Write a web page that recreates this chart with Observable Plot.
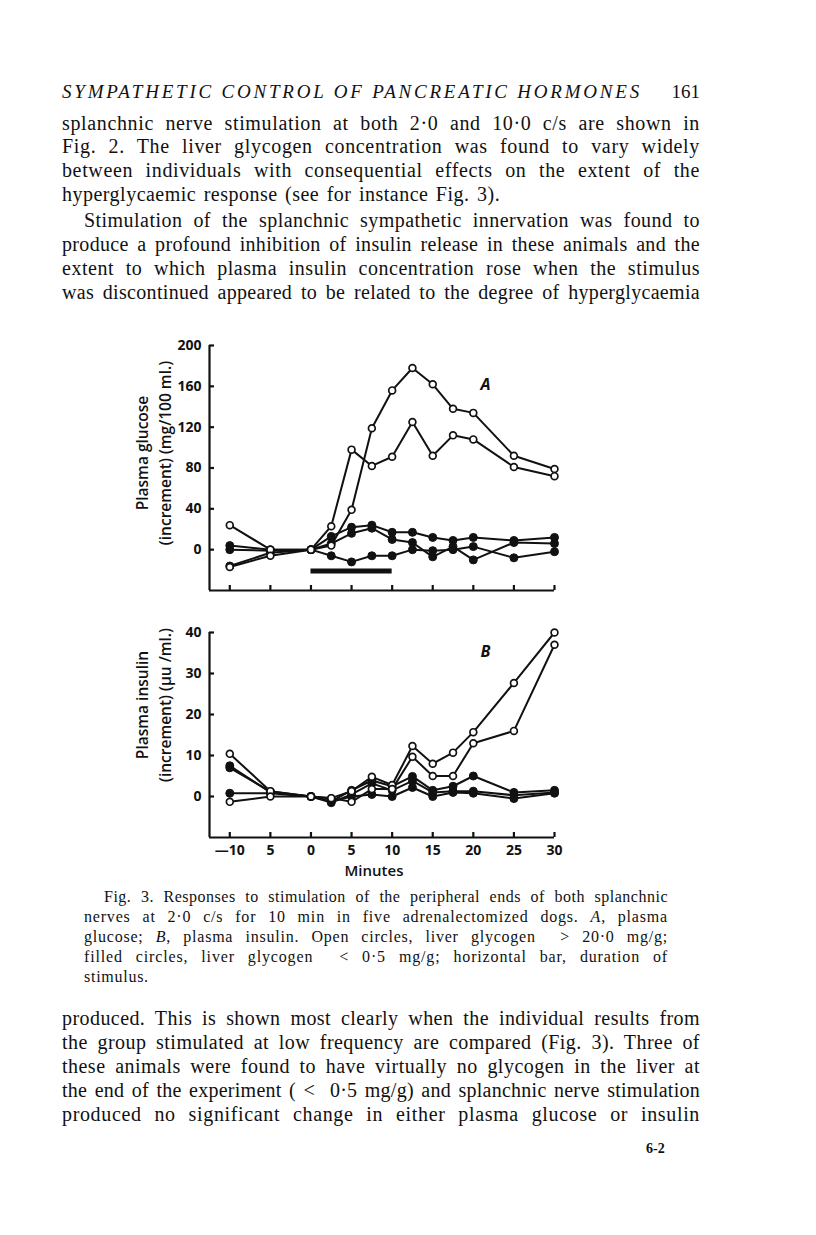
<!DOCTYPE html>
<html>
<head>
<meta charset="utf-8">
<script src="https://cdn.jsdelivr.net/npm/d3@7"></script>
<script src="https://cdn.jsdelivr.net/npm/@observablehq/plot@0.6"></script>
<style>
  html, body { margin: 0; padding: 0; background: #fff; }
  #page { position: relative; width: 816px; height: 1235px; background: #fff; overflow: hidden; color: #111; }
  .ln { position: absolute; left: 62px; width: 638px; font-family: "Liberation Serif", serif; font-size: 20px; line-height: 24px; height: 24px; white-space: nowrap; }
  .cap { position: absolute; left: 84px; width: 584px; font-family: "Liberation Serif", serif; font-size: 16px; line-height: 20px; height: 20px; white-space: nowrap; }
  .hdr { position: absolute; left: 62px; top: 80px; width: 638px; font-family: "Liberation Serif", serif; font-size: 19px; line-height: 24px; white-space: nowrap; }
  .plot { position: absolute; left: 0; }
</style>
</head>
<body>
<div id="page">
  <div class="hdr"><span id="hdrText" style="font-style:italic; letter-spacing:1.6px;">SYMPATHETIC CONTROL OF PANCREATIC HORMONES</span><span style="position:absolute; right:0; top:0;">161</span></div>

  <div class="ln" style="top:111px">splanchnic nerve stimulation at both 2·0 and 10·0 c/s are shown in</div>
  <div class="ln" style="top:134px">Fig. 2. The liver glycogen concentration was found to vary widely</div>
  <div class="ln" style="top:158px">between individuals with consequential effects on the extent of the</div>
  <div class="ln last" style="top:182px">hyperglycaemic response (see for instance Fig. 3).</div>
  <div class="ln" style="top:208px; left:84px; width:616px;">Stimulation of the splanchnic sympathetic innervation was found to</div>
  <div class="ln" style="top:232px">produce a profound inhibition of insulin release in these animals and the</div>
  <div class="ln" style="top:256px">extent to which plasma insulin concentration rose when the stimulus</div>
  <div class="ln" style="top:280px">was discontinued appeared to be related to the degree of hyperglycaemia</div>

  <div id="plotA"></div>
  <div id="plotB"></div>

  <div class="cap" style="top:887px; left:104px; width:564px;">Fig. 3. Responses to stimulation of the peripheral ends of both splanchnic</div>
  <div class="cap" style="top:907px">nerves at 2·0 c/s for 10 min in five adrenalectomized dogs. <i>A</i>, plasma</div>
  <div class="cap" style="top:927px">glucose; <i>B</i>, plasma insulin. Open circles, liver glycogen &nbsp;&gt; 20·0 mg/g;</div>
  <div class="cap" style="top:947px">filled circles, liver glycogen &nbsp;&lt; 0·5 mg/g; horizontal bar, duration of</div>
  <div class="cap last" style="top:967px">stimulus.</div>

  <div class="ln" style="top:1006px">produced. This is shown most clearly when the individual results from</div>
  <div class="ln" style="top:1030px">the group stimulated at low frequency are compared (Fig. 3). Three of</div>
  <div class="ln" style="top:1054px">these animals were found to have virtually no glycogen in the liver at</div>
  <div class="ln" style="top:1078px">the end of the experiment ( &lt; &nbsp;0·5 mg/g) and splanchnic nerve stimulation</div>
  <div class="ln" style="top:1102px">produced no significant change in either plasma glucose or insulin</div>
  <div style="position:absolute; left:646px; top:1141px; font-family:'Liberation Serif',serif; font-size:14px; font-weight:bold;">6-2</div>
</div>

<script>
// ---- data ----
const minutes = [-10, -5, 0, 2.5, 5, 7.5, 10, 12.5, 15, 17.5, 20, 25, 30];

// Panel A: plasma glucose increment (mg/100 ml)
const glucoseOpen1   = [24, 0, 0, 4, 39, 119, 156, 178, 162, 138, 134, 92, 79];
const glucoseOpen2   = [-17, -6, 0, 23, 98, 82, 91, 125, 92, 112, 108, 81, 72];
const glucoseFilled1 = [4, 0, 0, 13, 22, 24, 17, 17, 12, 9, 12, 9, 12];
const glucoseFilled2 = [-16, -3, 0, 6, 16, 21, 10, 7, -7, 3, -10, 7, 6];
const glucoseFilled3 = [0, -1, 0, -6, -12, -6, -6, 0, -1, 0, 3, -8, -2];

// Panel B: plasma insulin increment (µu/ml)
const insulinOpen1   = [10.4, 1.3, 0, -0.4, 1.3, 4.8, 2.8, 12.3, 8, 10.7, 15.7, 27.7, 40];
const insulinOpen2   = [-1.3, 0, 0, -0.4, -1.3, 1.8, 1.8, 9.7, 5, 5, 13, 16, 37];
const insulinFilled1 = [7.5, 1, 0, -1.2, 1.5, 3.9, 2.5, 4.9, 1.5, 2.5, 5, 1, 1.5];
const insulinFilled2 = [7, 1.2, 0, -1.5, 0.5, 3.2, 1.5, 3.8, 1, 1.3, 1.3, 0.3, 1];
const insulinFilled3 = [0.8, 0.8, 0, -1.2, 0, 0.5, 0, 2.2, 0, 1, 0.8, -0.5, 0.8];

// stimulus period (minutes)
const stimStart = 0;
const stimEnd = 10;

// axes
const xDomain = [-12.5, 30];
const xTicks = [-10, -5, 0, 5, 10, 15, 20, 25, 30];
const xTickLabels = ["\u201410", "5", "0", "5", "10", "15", "20", "25", "30"];
const glucoseDomain = [-40, 200];
const glucoseTicks = [0, 40, 80, 120, 160, 200];
const insulinDomain = [-10, 40];
const insulinTicks = [0, 10, 20, 30, 40];

const glucoseLabel = "Plasma glucose\n(increment) (mg/100 ml.)";
const insulinLabel = "Plasma insulin\n(increment) (\u03bcu /ml.)";
const xLabel = "Minutes";

function toRows(series) {
  const rows = [];
  series.forEach(([name, group, vals]) => {
    vals.forEach((v, i) => rows.push({dog: name, group, minute: minutes[i], value: v}));
  });
  return rows;
}

const glucoseRows = toRows([
  ["f1", "filled", glucoseFilled1], ["f2", "filled", glucoseFilled2], ["f3", "filled", glucoseFilled3],
  ["o1", "open", glucoseOpen1], ["o2", "open", glucoseOpen2]
]);
const insulinRows = toRows([
  ["f1", "filled", insulinFilled1], ["f2", "filled", insulinFilled2], ["f3", "filled", insulinFilled3],
  ["o1", "open", insulinOpen1], ["o2", "open", insulinOpen2]
]);

const W = 600, mL = 209, mR = 46;
const pxPerMin = (W - mL - mR) / (xDomain[1] - xDomain[0]);
const chartFont = "'Open Sans', Lato, sans-serif";

function panel({rows, yDomain, yTicks, height, mT, mB, label, letter, letterDy, labelDy, showX, bar}) {
  const frameH = height - mT - mB;
  const pxPerY = frameH / (yDomain[1] - yDomain[0]);
  const tickLenY = 5 / pxPerY;     // x-axis tick length in y units
  const tickLenX = 5 / pxPerMin;   // y-axis tick length in x units
  const filled = rows.filter(d => d.group === "filled");
  const open = rows.filter(d => d.group === "open");
  const marks = [
    Plot.ruleX([xDomain[0]], {y1: yDomain[0], y2: yDomain[1], strokeWidth: 2.2}),
    Plot.ruleY([yDomain[0]], {x1: xDomain[0], x2: xDomain[1], strokeWidth: 2.2}),
    Plot.ruleY(yTicks, {x1: xDomain[0], x2: xDomain[0] + tickLenX, strokeWidth: 2.2}),
    Plot.ruleX(xTicks, {y1: yDomain[0], y2: yDomain[0] + tickLenY, strokeWidth: 2.2}),
    Plot.axisY({ticks: yTicks, tickSize: 0, tickPadding: 8, fontSize: 14, fontWeight: "bold", label: null}),
    showX
      ? Plot.axisX({ticks: xTicks, tickSize: 0, tickPadding: 8, tickFormat: (d) => xTickLabels[xTicks.indexOf(d)], fontSize: 14, fontWeight: "bold", label: null})
      : Plot.axisX({ticks: [], label: null}),
    Plot.text([label], {frameAnchor: "left", textAnchor: "middle", lineAnchor: "middle", rotate: -90, dx: -57, dy: labelDy, lineHeight: 1.45, fontSize: 15.5, fontWeight: 600}),
    Plot.text([letter], {frameAnchor: "top-right", dx: -64, dy: letterDy, fontSize: 16, fontWeight: "bold", fontStyle: "italic"}),
    Plot.line(rows, {x: "minute", y: "value", z: "dog", stroke: "#111", strokeWidth: 2}),
    Plot.dot(filled, {x: "minute", y: "value", r: 4, fill: "#111", stroke: "#111", strokeWidth: 1}),
    Plot.dot(open, {x: "minute", y: "value", r: 3.4, fill: "white", stroke: "#111", strokeWidth: 1.7})
  ];
  if (bar) {
    marks.push(Plot.ruleY([bar], {x1: "start", x2: "end", y: "y", strokeWidth: 5, stroke: "#111"}));
  }
  if (showX) {
    marks.push(Plot.text([xLabel], {frameAnchor: "bottom", lineAnchor: "middle", dx: -8, dy: 34, fontSize: 15, fontWeight: 600}));
  }
  return Plot.plot({
    width: W, height, marginLeft: mL, marginRight: mR, marginTop: mT, marginBottom: mB,
    x: {domain: xDomain},
    y: {domain: yDomain},
    style: {fontFamily: chartFont, color: "#111", background: "transparent", overflow: "visible"},
    marks
  });
}

const svgA = panel({
  rows: glucoseRows, yDomain: glucoseDomain, yTicks: glucoseTicks,
  height: 270, mT: 15, mB: 10, label: glucoseLabel, letter: "A", letterDy: 33, labelDy: -15,
  showX: false, bar: {start: stimStart, end: stimEnd, y: -21}
});
svgA.classList.add("plot");
svgA.style.top = "330px";
svgA.style.position = "absolute";
document.getElementById("plotA").appendChild(svgA);

const svgB = panel({
  rows: insulinRows, yDomain: insulinDomain, yTicks: insulinTicks,
  height: 267, mT: 17, mB: 45, label: insulinLabel, letter: "B", letterDy: 13, labelDy: -30,
  showX: true, bar: null
});
svgB.classList.add("plot");
svgB.style.top = "615px";
svgB.style.position = "absolute";
document.getElementById("plotB").appendChild(svgB);

// ---- justify text lines by distributing slack over letters and spaces ----
function justify() {
  const groups = [document.querySelectorAll(".ln"), document.querySelectorAll(".cap")];
  groups.forEach(list => {
    const lss = [];
    const lastOnes = [];
    list.forEach(el => {
      if (!el.firstElementChild || el.firstElementChild.className !== "inner") {
        el.innerHTML = '<span class="inner">' + el.innerHTML + '</span>';
      }
      const span = el.firstElementChild;
      span.style.letterSpacing = "0px";
      span.style.wordSpacing = "0px";
      if (el.classList.contains("last")) { lastOnes.push(span); return; }
      const target = el.clientWidth;
      const text = span.textContent;
      const nChars = text.length;
      const nSpaces = (text.match(/[ \u00a0]/g) || []).length || 1;
      const natural = span.getBoundingClientRect().width;
      const slack = target - natural;
      let ls = Math.max(-0.4, Math.min(1.0, slack * 0.4 / nChars));
      span.style.letterSpacing = ls + "px";
      let w1 = span.getBoundingClientRect().width;
      let ws = (target - w1) / nSpaces;
      span.style.wordSpacing = ws + "px";
      let w2 = span.getBoundingClientRect().width;
      ws += (target - w2) / nSpaces;
      span.style.wordSpacing = ws + "px";
      lss.push(ls);
    });
    const avg = lss.length ? lss.reduce((a, b) => a + b, 0) / lss.length : 0;
    lastOnes.forEach(s => { s.style.letterSpacing = avg + "px"; s.style.wordSpacing = "2px"; });
  });
  // header: fit italic caps to reference width
  const h = document.getElementById("hdrText");
  h.style.letterSpacing = "0px";
  const n = h.textContent.length;
  const nat = h.getBoundingClientRect().width;
  h.style.letterSpacing = ((580 - nat) / n) + "px";
}
justify();
if (document.fonts && document.fonts.ready) document.fonts.ready.then(justify);
</script>
</body>
</html>
